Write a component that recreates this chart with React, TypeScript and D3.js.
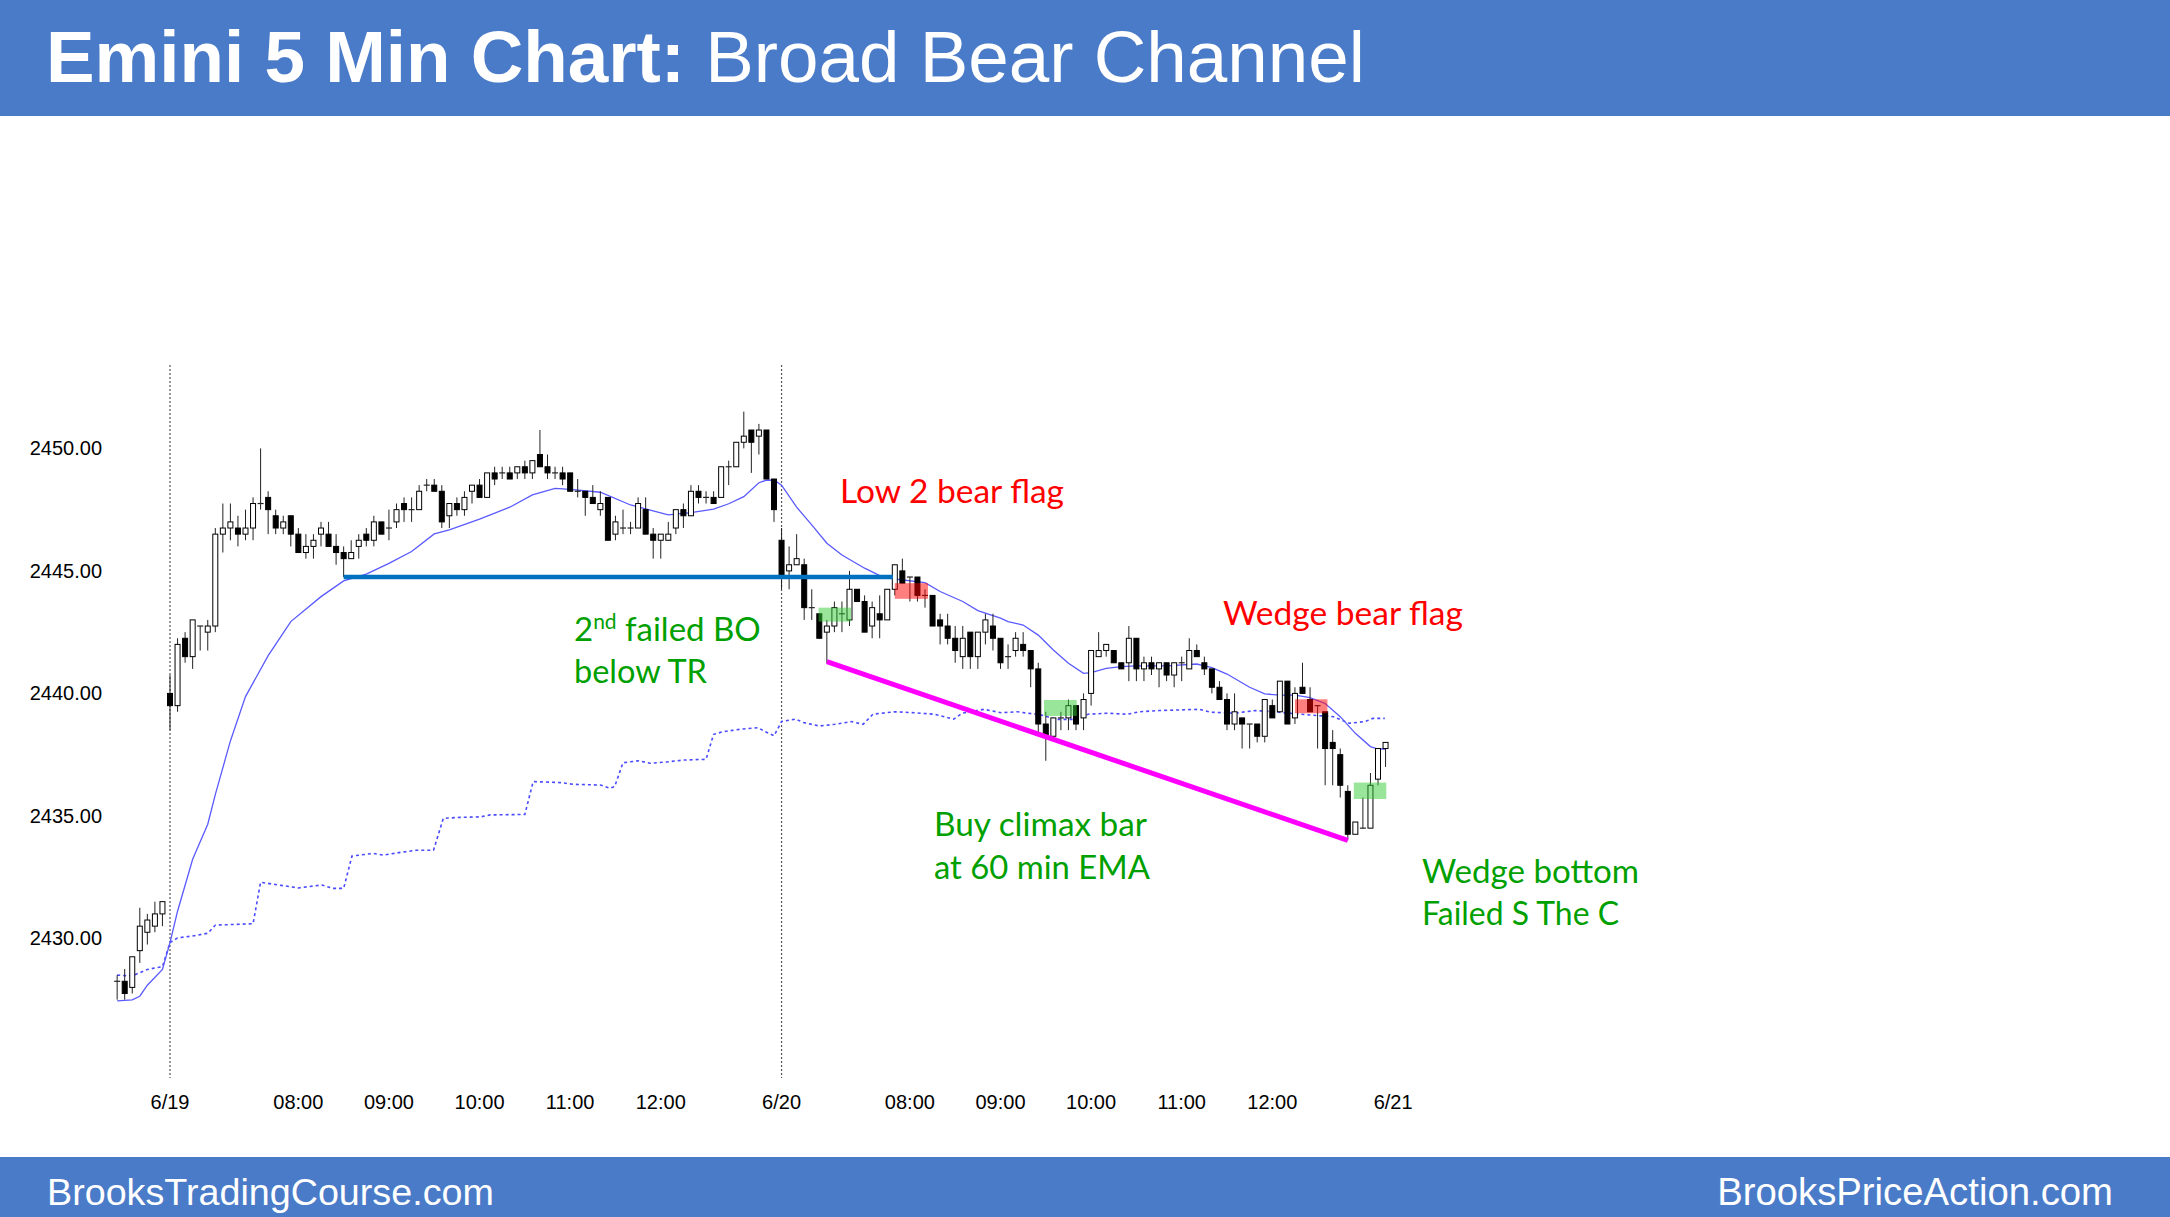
import React from "react";
import * as d3 from "d3";

const W = 2170;
const H = 1217;

// ---- OHLC data, bar index 0..168 (7 bars of prior session, 6/19 session, 6/20 session)
const opens = [
  2428.25, 2428.25, 2428.0, 2429.5, 2430.25, 2430.5, 2431.0,
  2440.0, 2439.5, 2442.25, 2441.5, 2442.75, 2442.5, 2442.75, 2446.5, 2446.75, 2446.75, 2446.5, 2446.75, 2447.75, 2448.0,
  2447.25, 2446.75, 2447.25, 2446.5, 2445.75, 2446.0, 2446.5, 2446.5, 2446.0, 2445.75, 2445.5, 2446.0, 2446.5, 2446.25,
  2447.0, 2446.75, 2447.0, 2447.75, 2447.5, 2447.5, 2448.5, 2448.5, 2448.25, 2447.25, 2447.75, 2447.5, 2448.25, 2448.5,
  2448.0, 2449.0, 2449.0, 2449.0, 2449.0, 2449.25, 2449.0, 2449.75, 2449.25, 2449.0, 2449.0, 2449.0, 2448.25, 2448.25,
  2448.0, 2447.5, 2448.0, 2446.5, 2446.75, 2446.75, 2446.75, 2447.5, 2446.5, 2446.25, 2446.25, 2446.75, 2447.5, 2447.25,
  2448.25, 2448.0, 2448.0, 2448.0, 2449.25, 2449.25, 2450.25, 2450.75, 2450.5, 2450.75, 2448.75,
  2446.25, 2445.0, 2445.25, 2445.25, 2443.5, 2443.25, 2442.5, 2442.75, 2443.25, 2443.0, 2444.25, 2443.75, 2442.75,
  2443.25, 2443.0, 2444.25, 2445.0, 2444.75, 2444.75, 2444.0, 2444.0, 2443.0, 2442.75, 2442.25, 2441.5, 2442.5, 2441.5,
  2442.5, 2442.75, 2442.25, 2441.5, 2441.75, 2442.0, 2441.75, 2441.0, 2438.75, 2438.25, 2439.0, 2439.0, 2439.5, 2439.0,
  2440.0, 2441.5, 2441.75, 2441.75, 2441.25, 2441.25, 2442.25, 2441.0, 2441.25, 2441.0, 2441.25, 2440.75, 2441.25,
  2441.0, 2441.75, 2441.25, 2441.0, 2440.25, 2439.75, 2438.75, 2439.0, 2438.75, 2438.75, 2438.25, 2439.5, 2439.25,
  2440.5, 2439.0, 2440.25, 2439.75, 2439.5, 2439.25, 2438.0, 2437.5, 2436.0, 2434.25, 2434.5, 2434.5, 2436.5, 2437.75,
];
const highs = [
  2428.5, 2428.75, 2429.25, 2431.25, 2431.0, 2431.5, 2431.5,
  2440.75, 2442.25, 2442.5, 2443.0, 2442.75, 2443.0, 2446.75, 2447.75, 2447.75, 2447.25, 2447.5, 2448.0, 2450.0, 2448.25,
  2447.5, 2447.25, 2447.25, 2446.75, 2446.5, 2446.5, 2447.0, 2447.0, 2446.5, 2446.0, 2446.25, 2446.5, 2446.75, 2447.25,
  2447.0, 2447.5, 2447.75, 2448.0, 2448.0, 2448.5, 2448.75, 2448.75, 2448.5, 2447.75, 2448.0, 2448.25, 2448.5, 2448.75,
  2449.0, 2449.25, 2449.25, 2449.25, 2449.25, 2449.5, 2449.5, 2450.75, 2449.75, 2449.25, 2449.25, 2449.0, 2448.75, 2448.25,
  2448.5, 2448.25, 2448.0, 2447.25, 2447.5, 2447.0, 2448.0, 2448.0, 2446.75, 2446.5, 2447.0, 2447.5, 2447.75, 2448.5,
  2448.5, 2448.25, 2448.25, 2449.25, 2449.5, 2450.25, 2451.5, 2450.75, 2451.0, 2450.75, 2448.75,
  2446.75, 2446.0, 2446.5, 2445.5, 2444.25, 2443.25, 2443.0, 2443.75, 2443.75, 2445.0, 2444.25, 2444.0, 2443.75,
  2444.0, 2444.25, 2445.25, 2445.5, 2444.75, 2444.75, 2444.25, 2444.0, 2443.25, 2443.25, 2442.75, 2442.75, 2442.5, 2442.5,
  2443.25, 2443.25, 2442.25, 2442.0, 2442.5, 2442.5, 2441.75, 2441.25, 2439.25, 2439.0, 2439.25, 2439.75, 2439.5, 2440.0,
  2441.75, 2442.5, 2442.0, 2441.75, 2441.25, 2442.75, 2442.25, 2441.5, 2441.5, 2441.25, 2441.25, 2441.25, 2441.5,
  2442.25, 2442.0, 2441.5, 2441.0, 2440.5, 2440.0, 2440.0, 2439.0, 2438.75, 2438.75, 2439.75, 2439.75, 2440.5,
  2440.5, 2440.25, 2441.25, 2440.25, 2439.5, 2439.25, 2438.5, 2437.75, 2436.25, 2434.75, 2435.75, 2436.75, 2437.75, 2438.0,
];
const lows = [
  2427.5, 2427.5, 2427.75, 2429.0, 2429.75, 2430.25, 2430.5,
  2438.5, 2439.25, 2441.25, 2441.0, 2441.75, 2441.75, 2442.5, 2445.75, 2446.25, 2446.0, 2446.25, 2446.25, 2447.5, 2446.5,
  2446.5, 2446.5, 2446.0, 2445.75, 2445.5, 2445.5, 2446.0, 2446.0, 2445.25, 2444.75, 2445.5, 2445.5, 2446.0, 2446.0,
  2446.5, 2446.25, 2446.75, 2447.0, 2447.0, 2447.5, 2448.25, 2448.25, 2446.75, 2446.75, 2447.25, 2447.25, 2447.75, 2448.0,
  2448.0, 2448.5, 2448.75, 2448.75, 2448.75, 2448.75, 2448.75, 2449.25, 2448.75, 2448.75, 2448.5, 2448.25, 2448.0, 2447.25,
  2447.75, 2447.25, 2446.25, 2446.25, 2446.5, 2446.5, 2446.75, 2446.5, 2445.5, 2445.5, 2446.25, 2446.5, 2446.75, 2447.25,
  2447.75, 2447.75, 2447.75, 2448.0, 2448.5, 2449.25, 2450.0, 2449.0, 2449.75, 2448.75, 2447.0,
  2444.25, 2444.25, 2445.25, 2443.0, 2443.0, 2442.25, 2441.25, 2442.5, 2442.5, 2442.75, 2443.75, 2442.5, 2442.25,
  2442.25, 2443.0, 2444.0, 2444.5, 2443.75, 2443.75, 2443.5, 2442.75, 2442.0, 2442.0, 2441.25, 2441.0, 2441.0, 2441.0,
  2442.0, 2441.75, 2441.0, 2441.0, 2441.5, 2441.5, 2440.25, 2438.25, 2437.25, 2438.25, 2438.5, 2438.5, 2438.5, 2438.5,
  2439.5, 2441.5, 2441.5, 2441.25, 2441.0, 2440.5, 2440.5, 2440.5, 2440.75, 2440.25, 2440.5, 2440.25, 2440.5,
  2441.0, 2441.5, 2440.75, 2440.0, 2439.75, 2438.5, 2438.5, 2437.75, 2437.75, 2438.0, 2438.0, 2439.0, 2439.25,
  2438.75, 2438.75, 2440.0, 2439.25, 2437.75, 2436.25, 2436.25, 2435.75, 2434.0, 2434.25, 2434.5, 2434.5, 2436.25, 2437.0,
];
const closes = [
  2428.25, 2427.75, 2429.25, 2430.5, 2430.75, 2431.0, 2431.5,
  2439.5, 2442.0, 2441.5, 2443.0, 2442.75, 2442.75, 2446.5, 2446.75, 2447.0, 2446.5, 2446.75, 2447.75, 2447.75, 2447.5,
  2446.75, 2447.0, 2446.5, 2445.75, 2446.0, 2446.25, 2446.75, 2446.0, 2445.75, 2445.5, 2445.75, 2446.25, 2446.25, 2447.0,
  2446.5, 2446.75, 2447.5, 2447.5, 2447.5, 2448.25, 2448.5, 2448.25, 2447.0, 2447.75, 2447.5, 2448.0, 2448.5, 2448.0,
  2449.0, 2448.75, 2449.0, 2448.75, 2449.25, 2449.0, 2449.5, 2449.25, 2449.0, 2449.0, 2448.75, 2448.25, 2448.25, 2448.0,
  2447.75, 2447.75, 2446.25, 2447.0, 2446.75, 2446.75, 2447.75, 2446.5, 2446.25, 2446.5, 2446.5, 2447.5, 2447.25, 2448.25,
  2448.0, 2448.0, 2447.75, 2449.25, 2449.25, 2450.25, 2450.5, 2450.25, 2450.75, 2448.75, 2447.5,
  2444.75, 2445.25, 2445.5, 2443.5, 2443.5, 2442.25, 2442.75, 2443.5, 2443.25, 2444.25, 2443.75, 2442.5, 2443.5,
  2443.0, 2444.25, 2445.25, 2444.5, 2444.75, 2444.0, 2444.0, 2442.75, 2442.75, 2442.25, 2441.75, 2442.25, 2441.5, 2442.5,
  2443.0, 2442.25, 2441.25, 2441.5, 2442.25, 2441.75, 2441.0, 2438.75, 2438.25, 2439.0, 2439.0, 2439.5, 2438.75, 2439.75,
  2441.75, 2441.75, 2442.0, 2441.25, 2441.0, 2442.25, 2441.0, 2441.25, 2441.0, 2441.25, 2440.75, 2441.25, 2441.25,
  2441.75, 2441.5, 2441.0, 2440.25, 2439.75, 2438.75, 2439.25, 2438.75, 2438.75, 2438.25, 2439.75, 2439.0, 2440.5,
  2438.75, 2440.0, 2440.0, 2439.25, 2439.5, 2437.75, 2437.75, 2436.25, 2434.25, 2434.75, 2434.5, 2436.25, 2437.75, 2438.0,
];

// 20-bar EMA (solid): [bar index, value]
const ema20: [number, number][] = [
  [0, 2427.45], [2, 2427.49], [3, 2427.64], [4, 2428.09], [6, 2428.73], [7, 2429.83], [8, 2431.11], [10, 2433.23],
  [12, 2434.66], [13, 2435.87], [15, 2438.06], [17, 2439.87], [20, 2441.54], [23, 2442.93], [27, 2443.95], [30, 2444.59],
  [33, 2444.87], [36, 2445.31], [39, 2445.79], [42, 2446.51], [44, 2446.67], [48, 2447.11], [52, 2447.6], [55, 2448.1],
  [58, 2448.37], [60, 2448.33], [64, 2448.21], [68, 2447.69], [73, 2447.29], [76, 2447.38], [79, 2447.52], [81, 2447.74],
  [83, 2448.03], [85, 2448.6], [86, 2448.7], [87, 2448.71], [88, 2448.5], [90, 2447.6], [92, 2446.88], [94, 2446.13],
  [96, 2445.65], [99, 2445.11], [101, 2444.81], [103, 2444.67], [107, 2444.52], [109, 2444.16], [112, 2443.75],
  [114, 2443.38], [117, 2443.07], [118, 2442.93], [120, 2442.79], [122, 2442.38], [124, 2441.77], [126, 2441.23],
  [128, 2440.82], [129, 2440.85], [131, 2441.02], [133, 2441.09], [135, 2441.12], [139, 2441.12], [143, 2441.2],
  [145, 2441.05], [147, 2440.79], [150, 2440.25], [152, 2439.98], [154, 2439.93], [156, 2439.93], [158, 2439.83],
  [160, 2439.59], [162, 2439.05], [164, 2438.37], [166, 2437.83], [167, 2437.73], [168, 2437.73],
];

// 60-minute EMA (dotted): [bar index, value]
const ema60: [number, number][] = [
  [0, 2428.5], [2, 2428.47], [4, 2428.73], [6, 2428.85], [7, 2429.83], [8, 2430.02], [10, 2430.1], [12, 2430.21],
  [13, 2430.54], [18, 2430.6], [19, 2432.29], [24, 2432.06], [27.1, 2432.18], [28.6, 2432.04], [30, 2432.04],
  [31.1, 2433.36], [33.9, 2433.47], [35.3, 2433.4], [37.5, 2433.51], [39.7, 2433.6], [41.9, 2433.6], [43.2, 2434.9],
  [45.4, 2434.94], [48.1, 2434.96], [49.4, 2435.04], [54, 2435.06], [55.1, 2436.4], [58.7, 2436.36], [60.4, 2436.29],
  [64, 2436.26], [65.3, 2436.13], [65.9, 2436.2], [67, 2437.17], [69, 2437.25], [70.6, 2437.15], [72.8, 2437.2],
  [75, 2437.28], [78, 2437.31], [79, 2438.33], [80.3, 2438.44], [82.9, 2438.55], [84.9, 2438.6], [85.8, 2438.44],
  [87, 2438.27], [88, 2438.85], [89.9, 2438.95], [90.9, 2438.81], [93, 2438.67], [95.1, 2438.74], [97.2, 2438.85],
  [98.8, 2438.74], [100.1, 2439.15], [103, 2439.25], [105.6, 2439.21], [108.2, 2439.15], [110.8, 2438.95],
  [111.9, 2439.19], [114.8, 2439.35], [117.1, 2439.21], [119.2, 2439.25], [122.4, 2439.12], [124.4, 2438.94],
  [127.1, 2438.94], [128.6, 2439.15], [131.2, 2439.19], [133.8, 2439.15], [135.4, 2439.25], [138, 2439.3],
  [140.2, 2439.32], [143.3, 2439.35], [144.9, 2439.23], [148, 2439.19], [150.7, 2439.3], [153.3, 2439.25],
  [155.3, 2439.19], [157.9, 2439.12], [161.1, 2439.05], [163.2, 2438.78], [165.3, 2438.85], [166.3, 2438.98],
  [167.9, 2438.98],
];

// axis ticks
const yTicks = [2430, 2435, 2440, 2445, 2450];
const xTickIndex = [7, 24, 36, 48, 60, 72, 88, 105, 117, 129, 141, 153, 169];
const xTickLabels = ["6/19", "08:00", "09:00", "10:00", "11:00", "12:00", "6/20", "08:00", "09:00", "10:00", "11:00", "12:00", "6/21"];
const sessionStarts = [7, 88];

// annotation marks in data space
const rangeLine = { from: 30, to: 102.75, level: 2444.75 };
const trendLine = { from: [94, 2441.3], to: [163, 2434.0] };
const greenBoxes: [number, number, number, number][] = [
  [92.9, 97.2, 2443.5, 2442.93],
  [122.76, 127.1, 2439.73, 2439.08],
  [163.8, 168.1, 2436.36, 2435.69],
];
const redBoxes: [number, number, number, number][] = [
  [103.0, 107.4, 2444.5, 2443.86],
  [156.0, 160.3, 2439.76, 2439.19],
];

const ARIAL = "'Liberation Sans', Arial, sans-serif";
const CAL = "Lato, 'Open Sans', sans-serif";

export default function App() {
  const x = d3.scaleLinear().domain([7, 88]).range([170, 781.55]);
  const y = d3.scaleLinear().domain([2430, 2450]).range([938.4, 448.4]);
  const line = d3
    .line<[number, number]>()
    .x((d) => x(d[0]))
    .y((d) => y(d[1]));

  const bodyW = 5;
  const green = "#00A000";
  const red = "#FF0000";

  return (
    <svg
      width={W}
      height={H}
      style={{ position: "absolute", left: 0, top: 0, display: "block", background: "#fff" }}
    >
      <rect x={0} y={0} width={W} height={H} fill="#fff" />
      {/* header */}
      <rect x={0} y={0} width={W} height={116} fill="#4a7bc8" />
      <text x={46} y={82} fontFamily={ARIAL} fontSize={72.8} fill="#fff">
        <tspan fontWeight="bold">Emini 5 Min Chart:</tspan>
        <tspan>{" Broad Bear Channel"}</tspan>
      </text>

      {/* footer */}
      <rect x={0} y={1157} width={W} height={60} fill="#4a7bc8" />
      <text x={47} y={1205} fontFamily={ARIAL} fontSize={37.7} fill="#fff">
        BrooksTradingCourse.com
      </text>
      <text x={2113} y={1205} fontFamily={ARIAL} fontSize={38.3} fill="#fff" textAnchor="end">
        BrooksPriceAction.com
      </text>

      {/* y axis labels */}
      {yTicks.map((t) => (
        <text key={t} x={102} y={y(t) + 7} fontFamily={ARIAL} fontSize={20} fill="#000" textAnchor="end">
          {t.toFixed(2)}
        </text>
      ))}

      {/* x axis labels */}
      {xTickIndex.map((idx, k) => (
        <text key={k} x={x(idx)} y={1109} fontFamily={ARIAL} fontSize={20} fill="#000" textAnchor="middle">
          {xTickLabels[k]}
        </text>
      ))}

      {/* session separators */}
      {sessionStarts.map((s) => (
        <line key={s} x1={x(s)} x2={x(s)} y1={365} y2={1078} stroke="#555" strokeWidth={1.2} strokeDasharray="2,2" />
      ))}

      {/* moving averages */}
      <path d={line(ema60) || ""} fill="none" stroke="#4a4aff" strokeWidth={1.6} strokeDasharray="3,3" />
      <path d={line(ema20) || ""} fill="none" stroke="#5a5aff" strokeWidth={1.3} />

      {/* candles */}
      {opens.map((o, i) => {
        const c = closes[i];
        const cx = x(i);
        const top = y(Math.max(o, c));
        const bot = y(Math.min(o, c));
        const up = c > o;
        const doji = c === o;
        return (
          <g key={i}>
            <line x1={cx} x2={cx} y1={y(highs[i])} y2={y(lows[i])} stroke="#222" strokeWidth={1} />
            {doji ? (
              <line x1={cx - bodyW / 2 - 0.5} x2={cx + bodyW / 2 + 0.5} y1={top} y2={top} stroke="#222" strokeWidth={1.2} />
            ) : (
              <rect
                x={cx - bodyW / 2}
                y={top}
                width={bodyW}
                height={Math.max(1, bot - top)}
                fill={up ? "#fff" : "#000"}
                stroke="#000"
                strokeWidth={1}
              />
            )}
          </g>
        );
      })}

      {/* signal boxes */}
      {greenBoxes.map((b, k) => (
        <rect
          key={"g" + k}
          x={x(b[0])}
          y={y(b[2])}
          width={x(b[1]) - x(b[0])}
          height={y(b[3]) - y(b[2])}
          fill="#33cc33"
          fillOpacity={0.5}
        />
      ))}
      {redBoxes.map((b, k) => (
        <rect
          key={"r" + k}
          x={x(b[0])}
          y={y(b[2])}
          width={x(b[1]) - x(b[0])}
          height={y(b[3]) - y(b[2])}
          fill="#ff0000"
          fillOpacity={0.5}
        />
      ))}

      {/* trading range line & wedge trend line */}
      <line
        x1={x(rangeLine.from)}
        x2={x(rangeLine.to)}
        y1={y(rangeLine.level)}
        y2={y(rangeLine.level)}
        stroke="#0070C0"
        strokeWidth={4.5}
      />
      <line
        x1={x(trendLine.from[0])}
        y1={y(trendLine.from[1])}
        x2={x(trendLine.to[0])}
        y2={y(trendLine.to[1])}
        stroke="#FF00FF"
        strokeWidth={5}
      />

      {/* annotations */}
      <text x={840} y={503} fontFamily={CAL} fontSize={33} fill={red} textLength={224} lengthAdjust="spacingAndGlyphs">
        Low 2 bear flag
      </text>
      <text x={1223} y={625} fontFamily={CAL} fontSize={33} fill={red} textLength={240} lengthAdjust="spacingAndGlyphs">
        Wedge bear flag
      </text>
      <text x={574} y={641} fontFamily={CAL} fontSize={33} fill={green}>
        <tspan>2</tspan>
        <tspan fontSize={21} dy={-12}>nd</tspan>
        <tspan dy={12}>{" failed BO"}</tspan>
      </text>
      <text x={574} y={683} fontFamily={CAL} fontSize={33} fill={green} textLength={133} lengthAdjust="spacingAndGlyphs">
        below TR
      </text>
      <text x={934} y={836} fontFamily={CAL} fontSize={33} fill={green} textLength={213} lengthAdjust="spacingAndGlyphs">
        Buy climax bar
      </text>
      <text x={934} y={879} fontFamily={CAL} fontSize={33} fill={green} textLength={216} lengthAdjust="spacingAndGlyphs">
        at 60 min EMA
      </text>
      <text x={1422} y={883} fontFamily={CAL} fontSize={33} fill={green} textLength={217} lengthAdjust="spacingAndGlyphs">
        Wedge bottom
      </text>
      <text x={1422} y={925} fontFamily={CAL} fontSize={33} fill={green} textLength={197} lengthAdjust="spacingAndGlyphs">
        Failed S The C
      </text>
    </svg>
  );
}
